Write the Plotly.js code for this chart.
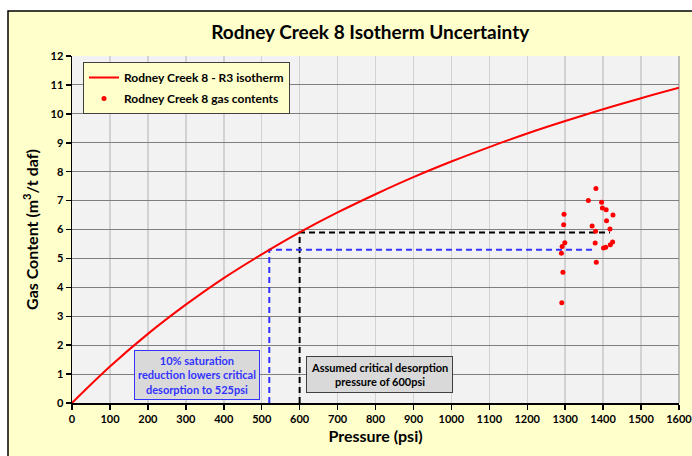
<!DOCTYPE html>
<html>
<head>
<meta charset="utf-8">
<script src="https://cdn.plot.ly/plotly-3.0.1.min.js"></script>
<style>html,body{margin:0;padding:0;background:#fff;}#chart{width:692px;height:456px;}</style>
</head>
<body>
<div id="chart"></div>
<script>
// Isotherm curve (psi, m3/t daf)
const isoPressure = [0,100,200,300,400,500,600,700,800,900,1000,1100,1200,1300,1400,1500,1600];
const isoGas      = [0,1.26,2.39,3.40,4.32,5.14,5.90,6.59,7.22,7.81,8.35,8.85,9.32,9.75,10.16,10.54,10.90];

// Measured gas contents
const samplePressure = [1381,1361,1396,1398,1408,1426,1297,1296,1409,1371,1418,1380,1299,1292,1290,1379,1425,1419,1407,1401,1382,1294,1291];
const sampleGas      = [7.42,7.00,6.94,6.74,6.68,6.50,6.53,6.16,6.30,6.12,6.02,5.94,5.54,5.41,5.18,5.53,5.57,5.47,5.39,5.36,4.87,4.52,3.47];

// Critical desorption guide lines
const assumedP = 600, assumedGas = 5.90, assumedEnd = 1418;
const reducedP = 520, reducedGas = 5.30, reducedEnd = 1373;

const xTicks = [0,100,200,300,400,500,600,700,800,900,1000,1100,1200,1300,1400,1500,1600];
const yTicks = [0,1,2,3,4,5,6,7,8,9,10,11,12];

const FONT = 'Lato, "Open Sans", sans-serif';
const bold = (size, color) => ({family: FONT, size: size, color: color || '#000', weight: 700});

const traces = [
  {x:[assumedP, assumedP, assumedEnd], y:[0, assumedGas, assumedGas], mode:'lines',
   line:{color:'#000000', width:2, dash:'6px,4px'}, showlegend:false, hoverinfo:'skip'},
  {x:[reducedP, reducedP, reducedEnd], y:[0, reducedGas, reducedGas], mode:'lines',
   line:{color:'#3333ff', width:2, dash:'6px,4px'}, showlegend:false, hoverinfo:'skip'},
  {x:isoPressure, y:isoGas, mode:'lines', name:'Rodney Creek 8 - R3 isotherm',
   line:{color:'#ff0000', width:2, shape:'spline'}, legendgroup:'a'},
  {x:samplePressure, y:sampleGas, mode:'markers', name:'Rodney Creek 8 gas contents',
   marker:{color:'#ff0000', size:5}, legendgroup:'b', cliponaxis:false}
];

const plotL = 72, plotR = 679, plotT = 56, plotB = 403, W = 692, H = 456;
const pw = plotR - plotL, ph = plotB - plotT;
const px = v => (v - plotL) / pw;
const py = v => (plotB - v) / ph;

const layout = {
  width: W, height: H,
  margin: {l: plotL, r: W - plotR, t: plotT, b: H - plotB},
  paper_bgcolor: '#ffffff',
  plot_bgcolor: '#f2f2f2',
  title: {text: 'Rodney Creek 8 Isotherm Uncertainty', font: bold(19), x: 0.535, xref:'container', xanchor:'center', y: 1 - 32/H, yanchor:'middle'},
  xaxis: {
    range: [0, 1600], tickvals: xTicks, ticktext: xTicks.map(String),
    showgrid: true, gridcolor: '#d2d2d2', gridwidth: 1.5,
    showline: true, linecolor: '#000', linewidth: 1.5,
    ticks: 'outside', ticklen: 5, tickcolor: '#000', tickwidth: 1.5,
    tickfont: bold(11), zeroline: false, ticklabeloverflow: 'allow',
    title: {text: 'Pressure (psi)', font: bold(16), standoff: 7}
  },
  yaxis: {
    range: [0, 12], tickvals: yTicks, ticktext: yTicks.map(String),
    showgrid: true, gridcolor: '#7f7f7f', gridwidth: 1,
    showline: true, linecolor: '#000', linewidth: 1.5,
    ticks: 'outside', ticklen: 5, tickcolor: '#000', tickwidth: 1.5,
    tickfont: bold(11), zeroline: false, ticklabeloverflow: 'allow',
    title: {text: 'Gas Content (m<sup>3</sup>/t daf)', font: bold(16), standoff: 8}
  },
  legend: {
    x: px(83), y: py(62), xanchor: 'left', yanchor: 'top',
    bgcolor: '#ffffcc', bordercolor: '#404040', borderwidth: 1,
    font: bold(12), traceorder: 'grouped', tracegroupgap: 2
  },
  shapes: [
    {type:'rect', xref:'paper', yref:'paper', layer:'below',
     x0: px(8), x1: px(W + 20), y0: py(H + 20), y1: py(11),
     fillcolor:'#ffffcc', line:{color:'#000', width:1.5}},
    {type:'rect', xref:'paper', yref:'paper', layer:'below',
     x0: 0, x1: 1, y0: 0, y1: 1, fillcolor:'#f2f2f2', line:{width:0}},
    {type:'line', xref:'paper', yref:'paper', layer:'below',
     x0: 1, x1: 1, y0: 0, y1: 1, line:{color:'#a8a8a8', width:1.5}}
  ],
  annotations: [
    {xref:'x', yref:'y', x: 329, y: 0.98, showarrow:false,
     text:'10% saturation<br>reduction lowers critical<br>desorption to 525psi',
     font: bold(11, '#3333ff'), bgcolor:'#d9d9d9', bordercolor:'#3333ff', borderwidth:1, borderpad:3, align:'center'},
    {xref:'x', yref:'y', x: 810, y: 1.0, showarrow:false,
     text:'Assumed critical desorption<br>pressure of 600psi',
     font: bold(11, '#000'), bgcolor:'#d9d9d9', bordercolor:'#404040', borderwidth:1, borderpad:4, align:'center'}
  ]
};

Plotly.newPlot('chart', traces, layout, {displayModeBar:false, staticPlot:true});
</script>
</body>
</html>
